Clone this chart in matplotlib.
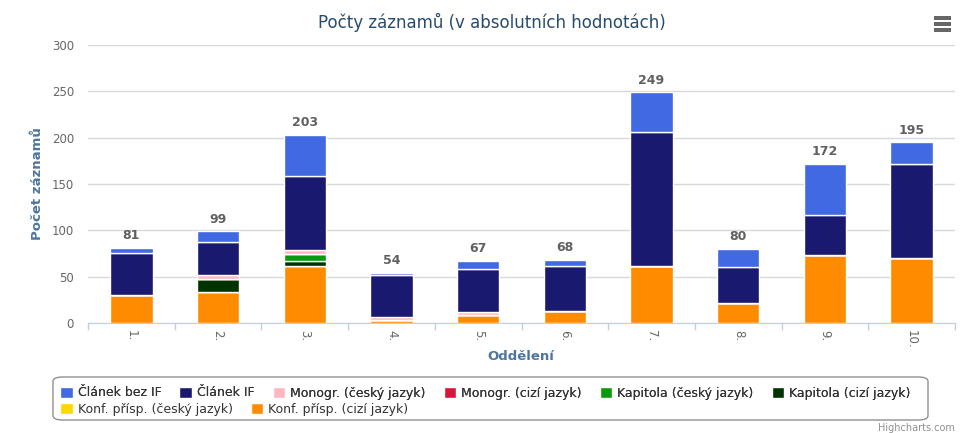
import matplotlib
matplotlib.use("Agg")
import matplotlib.pyplot as plt
from matplotlib.patches import FancyBboxPatch, Rectangle
import numpy as np

categories = ["1.", "2.", "3.", "4.", "5.", "6.", "7.", "8.", "9.", "10."]
series_names = ["Článek bez IF", "Článek IF", "Monogr. (český jazyk)", "Monogr. (cizí jazyk)",
                "Kapitola (český jazyk)", "Kapitola (cizí jazyk)", "Konf. přísp. (český jazyk)",
                "Konf. přísp. (cizí jazyk)"]
clanek_bez_if = [5, 12, 44, 2, 9, 7, 43, 20, 55, 23]
clanek_if = [46, 35, 80, 46, 46, 48, 144, 38, 44, 102]
monogr_cesky = [0, 5, 5, 3, 3, 0, 0, 0, 0, 0]
monogr_cizi = [0, 0, 0, 0, 0, 0, 0, 0, 0, 0]
kapitola_cesky = [0, 0, 7, 0, 0, 0, 0, 0, 0, 0]
kapitola_cizi = [0, 14, 6, 0, 0, 0, 0, 0, 0, 0]
konf_cesky = [0, 0, 0, 0, 0, 0, 0, 0, 0, 0]
konf_cizi = [30, 33, 61, 3, 9, 13, 62, 22, 73, 70]

colors = ["#4169E1", "#191970", "#FFB6C1", "#DC143C", "#0A9A0A", "#003300", "#FFD700", "#FF8C00"]
all_series = [clanek_bez_if, clanek_if, monogr_cesky, monogr_cizi, kapitola_cesky,
              kapitola_cizi, konf_cesky, konf_cizi]

W, H = 969, 433
fig = plt.figure(figsize=(W / 100, H / 100), dpi=100)
ax = fig.add_axes([88 / W, 1 - 323 / H, (955 - 88) / W, (323 - 45) / H])

x = np.arange(len(categories))
bottom = np.zeros(len(categories))
handles = [None] * len(all_series)
# Highcharts stacks last series at bottom
for i in reversed(range(len(all_series))):
    vals = np.array(all_series[i], dtype=float)
    h = ax.bar(x, vals, width=0.49, bottom=bottom, color=colors[i], edgecolor="white",
               linewidth=1, zorder=3)
    handles[i] = h
    bottom += vals

totals = bottom
for xi, t in zip(x, totals):
    ax.annotate(f"{int(t)}", (xi, t), xytext=(0, 4), textcoords="offset points",
                ha="center", va="bottom", fontsize=9, color="#606060", fontweight="bold")

ax.set_xlim(-0.5, len(categories) - 0.5)
ax.set_ylim(0, 300)
ax.set_yticks(np.arange(0, 301, 50))
ax.yaxis.grid(True, color="#D8D8D8", linewidth=1, zorder=0)
ax.set_axisbelow(True)
for s in ["top", "right", "left"]:
    ax.spines[s].set_visible(False)
ax.spines["bottom"].set_color("#C0D0E0")
ax.tick_params(axis="y", length=0, labelsize=8.5, labelcolor="#666666", pad=10)
ax.set_xticks(x)
ax.set_xticklabels(categories, rotation=-90, fontsize=8.5, color="#666666")
ax.tick_params(axis="x", length=0, pad=5)
ax.set_xticks(np.arange(-0.5, len(categories) + 0.5, 1), minor=True)
ax.tick_params(axis="x", which="minor", length=5, color="#C0D0E0", width=1)

ax.set_ylabel("Počet záznamů", fontsize=9.5, color="#4d759e", fontweight="bold", labelpad=6)
fig.text(521 / W, 1 - 357 / H, "Oddělení", ha="center", va="center", fontsize=9.5,
         color="#4d759e", fontweight="bold")

fig.text(492 / W, 1 - 22 / H, "Počty záznamů (v absolutních hodnotách)", ha="center",
         va="center", fontsize=12, color="#274b6d")

# legend box
box = FancyBboxPatch((53 / W, 1 - 420 / H), (928 - 53) / W, (420 - 377) / H,
                     boxstyle="round,pad=0,rounding_size=0.01", transform=fig.transFigure,
                     facecolor="white", edgecolor="#909090", linewidth=1)
fig.patches.append(box)
row1 = fig.legend(handles[:6], series_names[:6], loc="center left",
                  bbox_to_anchor=(60 / W, 1 - 393 / H), ncol=6, frameon=False, fontsize=9,
                  handlelength=1.0, handleheight=1.0, handletextpad=0.4, columnspacing=1.45,
                  borderpad=0, borderaxespad=0)
for t in row1.get_texts():
    t.set_color("#333333")
fig.add_artist(row1)
row2 = fig.legend(handles[6:], series_names[6:], loc="center left",
                  bbox_to_anchor=(60 / W, 1 - 409 / H), ncol=2, frameon=False, fontsize=9,
                  handlelength=1.0, handleheight=1.0, handletextpad=0.4, columnspacing=1.45,
                  borderpad=0, borderaxespad=0)
for t in row2.get_texts():
    t.set_color("#333333")

fig.text(955 / W, 1 - 428 / H, "Highcharts.com", ha="right", va="center", fontsize=7,
         color="#909090")

# menu icon
for yy in (18, 24, 30):
    fig.patches.append(Rectangle((934 / W, 1 - (yy + 2) / H), 17 / W, 3.5 / H,
                                 transform=fig.transFigure, facecolor="#666666",
                                 edgecolor="none"))

fig.savefig("out.png", dpi=100)
